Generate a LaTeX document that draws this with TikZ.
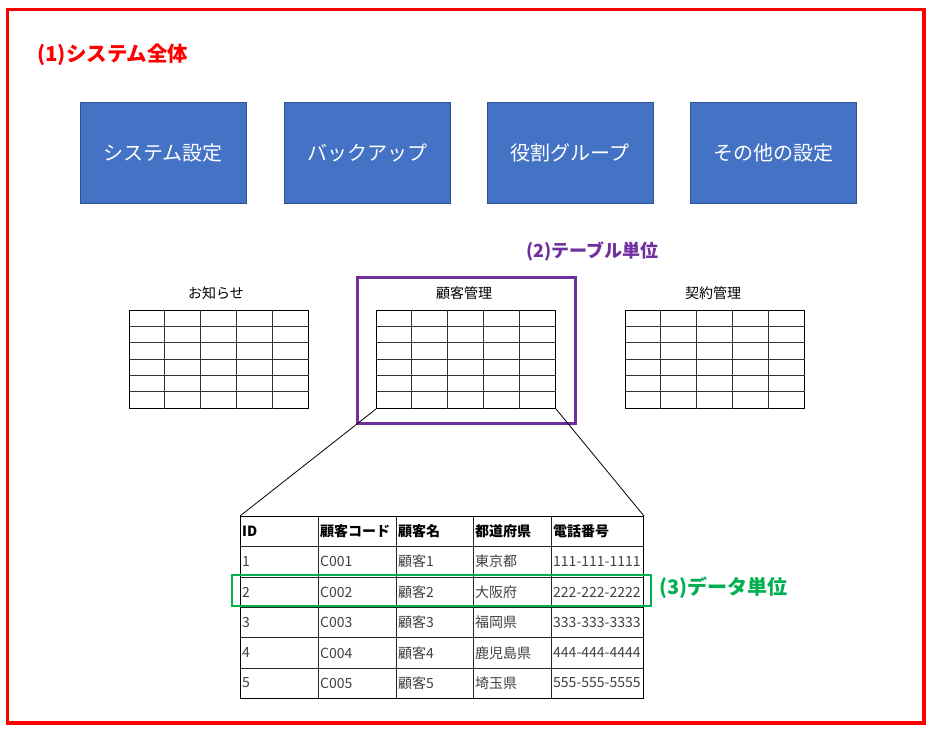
\documentclass[tikz,border=0pt]{standalone}
\usepackage{fontspec}
\setmainfont{Noto Sans CJK JP}
\usetikzlibrary{calc}
\definecolor{frameRed}{HTML}{FF0000}
\definecolor{boxBlue}{HTML}{4472C4}
\definecolor{boxBlueEdge}{HTML}{2F528F}
\definecolor{tblPurple}{HTML}{7030A0}
\definecolor{rowGreen}{HTML}{00B050}
\definecolor{cellText}{HTML}{404040}
\newcommand\gridtbl[3]{%
  \node[tblbox, anchor=north west] (#1) at (#2,#3) {};
  \foreach \i in {1,...,4}
    \draw[gridln] ($(#1.north west)+(\i*35.8,0)$) -- ($(#1.south west)+(\i*35.8,0)$);
  \foreach \j in {1,...,5}
    \draw[gridln] ($(#1.north west)+(0,\j*16.33)$) -- ($(#1.north east)+(0,\j*16.33)$);
}
\begin{document}
\begin{tikzpicture}[x=1pt,y=-1pt,
  bluebox/.style={draw=boxBlueEdge, line width=0.8pt, fill=boxBlue, text=white,
    minimum width=166pt, minimum height=101pt, inner sep=0pt,
    font=\fontsize{20}{24}\selectfont},
  tblbox/.style={draw=black, line width=1pt, minimum width=179pt, minimum height=98pt, inner sep=0pt},
  gridln/.style={draw=black!80, line width=0.8pt},
  tbltitle/.style={font=\fontsize{14}{16}\selectfont, text=black, inner sep=0pt},
  biglabel/.style={font=\fontsize{20.5}{24}\selectfont\bfseries, inner sep=0pt, anchor=west},
  midlabel/.style={font=\fontsize{18}{22}\selectfont\bfseries, inner sep=0pt, anchor=west},
  hcell/.style={font=\fontsize{14}{16}\selectfont\bfseries, text=black, inner sep=0pt, anchor=west},
  dcell/.style={font=\fontsize{14}{16}\selectfont, text=cellText, inner sep=0pt, anchor=west},
  bigln/.style={draw=black!85, line width=0.8pt}
]
\useasboundingbox (0,0) rectangle (934,738);
% outer frame
\draw[frameRed, line width=3.5pt] (7.5,9.5) rectangle (924,723);
\node[biglabel, text=frameRed] (l1) at (37,55) {(1)システム全体};

% blue boxes
\node[bluebox] (b1) at (163,152.5) {システム設定};
\node[bluebox] (b2) at (367,152.5) {バックアップ};
\node[bluebox] (b3) at (570,152.5) {役割グループ};
\node[bluebox] (b4) at (773.5,152.5) {その他の設定};

% table unit label and box
\node[midlabel, text=tblPurple] (l2) at (526,251) {(2)テーブル単位};
\node[draw=tblPurple, line width=3pt, minimum width=218pt, minimum height=146pt, inner sep=0pt] (pbox) at (466,350) {};

% small tables
\node[tbltitle] (n1) at (216,293) {お知らせ};
\gridtbl{t1}{129}{310}
\node[tbltitle] (n2) at (464,293) {顧客管理};
\gridtbl{t2}{376}{310}
\node[tbltitle] (n3) at (713,293) {契約管理};
\gridtbl{t3}{625}{310}

% big table
\node[draw=black, line width=1pt, anchor=north west, minimum width=403pt, minimum height=182pt, inner sep=0pt] (big) at (240,516) {};
\foreach \cx in {318,396,473,551}
  \draw[bigln] (\cx,516) -- (\cx,698);
\foreach \ry in {546.5,577,607,637.5,668}
  \draw[bigln] (240,\ry) -- (643,\ry);

% zoom connectors
\draw[black, line width=0.8pt] (t2.south west) -- (big.north west);
\draw[black, line width=0.8pt] (t2.south east) -- (big.north east);

% header
\node[hcell] (h1) at (242,531) {ID};
\node[hcell] (h2) at (320,531) {顧客コード};
\node[hcell] (h3) at (398,531) {顧客名};
\node[hcell] (h4) at (475,531) {都道府県};
\node[hcell] (h5) at (553,531) {電話番号};

% data rows
\foreach \y/\id/\code/\nm/\pref/\tel [count=\k] in {
  561.5/1/C001/顧客1/東京都/111-111-1111,
  592/2/C002/顧客2/大阪府/222-222-2222,
  622.5/3/C003/顧客3/福岡県/333-333-3333,
  653/4/C004/顧客4/鹿児島県/444-444-4444,
  683/5/C005/顧客5/埼玉県/555-555-5555}{
  \node[dcell] (r\k c1) at (242,\y) {\id};
  \node[dcell] (r\k c2) at (320,\y) {\code};
  \node[dcell] (r\k c3) at (398,\y) {\nm};
  \node[dcell] (r\k c4) at (475,\y) {\pref};
  \node[dcell] (r\k c5) at (553,\y) {\tel};
}

% data unit box and label
\node[draw=rowGreen, line width=2.5pt, minimum width=419pt, minimum height=31pt, inner sep=0pt] (gbox) at (441.5,590.5) {};
\node[midlabel, text=rowGreen, font=\fontsize{20}{24}\selectfont\bfseries] (l3) at (659,588) {(3)データ単位};
\end{tikzpicture}
\end{document}
